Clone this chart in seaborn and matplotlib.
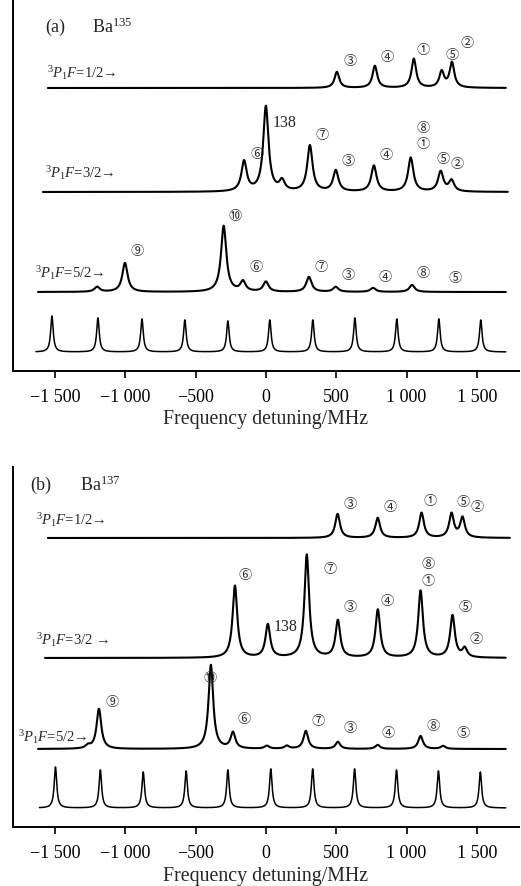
import numpy as np
import pandas as pd
import seaborn as sns
import matplotlib.pyplot as plt

# ---- data: peak centres (MHz) and heights (arb. units) ----
# panel (a) Ba135
a_f12_pos = [505, 775, 1052, 1250, 1323]
a_f12_amp = [16, 22, 29, 16, 25]
a_f32_pos = [-155, 0, 115, 313, 497, 768, 1030, 1243, 1320]
a_f32_amp = [30, 85, 10, 46, 21, 26, 34, 20, 11]
a_f52_pos = [-1200, -1002, -300, -163, 0, 306, 497, 762, 1039]
a_f52_amp = [5, 29, 66, 10, 10, 15, 5, 4, 7]
a_comb_pos = [-1521, -1194, -881, -576, -270, 28, 334, 633, 931, 1230, 1528]
a_comb_amp = [36, 34, 33, 32, 31, 32, 32, 34, 33, 33, 32]

# panel (b) Ba137
b_f12_pos = [510, 795, 1107, 1320, 1398]
b_f12_amp = [24, 20, 25, 24, 20]
b_f32_pos = [-220, 14, 291, 512, 796, 1100, 1327, 1414]
b_f32_amp = [72, 33, 103, 37, 48, 67, 42, 9]
b_f52_pos = [-1265, -1187, -391, -234, 7, 149, 284, 512, 795, 1100, 1260]
b_f52_amp = [3, 40, 84, 16, 3, 3, 18, 7, 4, 13, 3]
b_comb_pos = [-1496, -1177, -872, -567, -270, 35, 333, 631, 929, 1227, 1525]
b_comb_amp = [41, 38, 36, 37, 38, 39, 39, 39, 38, 37, 36]

tick_vals = [-1500, -1000, -500, 0, 500, 1000, 1500]
tick_text = ['\u22121 500', '\u22121 000', '\u2212500', '0',
             '500', '1 000', '1 500']

sns.set_theme(style='ticks')
plt.rcParams['font.family'] = ['Liberation Serif', 'DejaVu Serif']
plt.rcParams['mathtext.fontset'] = 'custom'
plt.rcParams['mathtext.rm'] = 'Liberation Serif'
plt.rcParams['mathtext.it'] = 'Liberation Serif:italic'
plt.rcParams['mathtext.bf'] = 'Liberation Serif:bold'

CIRC = ['Noto Sans CJK SC', 'DejaVu Sans']
NUM = dict(zip('1 2 3 4 5 6 7 8 9 10'.split(), '①②③④⑤⑥⑦⑧⑨⑩'))


def spectrum(x, pos, amp, fwhm):
    hw = fwhm / 2.0
    y = np.zeros_like(x)
    for p, a in zip(pos, amp):
        y = y + a * hw ** 2 / ((x - p) ** 2 + hw ** 2)
    return y


def draw_trace(ax, pos, amp, fwhm, base, x0, x1, lw):
    x = np.linspace(x0, x1, 2500)
    df = pd.DataFrame({'f': x, 'sig': base + spectrum(x, pos, amp, fwhm)})
    sns.lineplot(data=df, x='f', y='sig', ax=ax, color='black', lw=lw,
                 estimator=None, sort=False)


def style_axes(ax, ylim, lpad):
    ax.set_xlim(-1800, 1800)
    ax.set_ylim(*ylim)
    ax.set_yticks([])
    ax.set_ylabel('')
    ax.set_xticks(tick_vals)
    ax.set_xticklabels(tick_text, fontsize=13)
    ax.set_xlabel('Frequency detuning/MHz', fontsize=14.3, labelpad=lpad)
    ax.tick_params(axis='x', direction='out', length=5, width=1.2, pad=7,
                   colors='black')
    for s in ['top', 'right']:
        ax.spines[s].set_visible(False)
    for s in ['left', 'bottom']:
        ax.spines[s].set_linewidth(1.4)
        ax.spines[s].set_color('black')


def circ(ax, x, y, n):
    ax.text(x, y, NUM[n], family=CIRC, fontsize=9.5, ha='center', va='center')


fig = plt.figure(figsize=(5.21, 8.87), dpi=100)
ax_a = fig.add_axes([0.0244, 0.5806, 0.9718, 0.4194])
ax_b = fig.add_axes([0.0244, 0.0665, 0.9718, 0.4059])

# ---- panel (a) ----
draw_trace(ax_a, a_f12_pos, a_f12_amp, 40, 283, -1550, 1706, 1.5)
draw_trace(ax_a, a_f32_pos, a_f32_amp, 45, 179, -1585, 1720, 1.5)
draw_trace(ax_a, a_f52_pos, a_f52_amp, 45, 79, -1620, 1706, 1.5)
draw_trace(ax_a, a_comb_pos, a_comb_amp, 22, 19, -1635, 1706, 1.1)
style_axes(ax_a, (0, 372), 3)

ax_a.text(-1571, 345, '(a)', fontsize=13, va='center')
ax_a.text(-1237, 345, 'Ba$^{135}$', fontsize=13, va='center')
lab = dict(fontsize=10.5, va='center', ha='left', family=['Liberation Serif', 'DejaVu Serif'])
ax_a.text(-1556, 299, '$^{3}P_{1}F$=1/2\u2192', **lab)
ax_a.text(-1571, 199, '$^{3}P_{1}F$=3/2\u2192', **lab)
ax_a.text(-1642, 99, '$^{3}P_{1}F$=5/2\u2192', **lab)
ax_a.text(50, 249, '138', fontsize=11.5, va='center', ha='left')
for x, y, n in [(597, 311, '3'), (860, 315, '4'), (1116, 322, '1'),
                (1322, 317, '5'), (1429, 329, '2'),
                (-64, 218, '6'), (398, 237, '7'), (583, 211, '3'),
                (853, 217, '4'), (1116, 244, '8'), (1116, 228, '1'),
                (1258, 213, '5'), (1357, 208, '2'),
                (-220, 156, '10'), (-917, 121, '9'), (-71, 105, '6'),
                (391, 105, '7'), (583, 97, '3'), (846, 95, '4'),
                (1116, 99, '8'), (1343, 94, '5')]:
    circ(ax_a, x, y, n)

# ---- panel (b) ----
draw_trace(ax_b, b_f12_pos, b_f12_amp, 40, 289, -1550, 1735, 1.5)
draw_trace(ax_b, b_f32_pos, b_f32_amp, 40, 169, -1570, 1706, 1.5)
draw_trace(ax_b, b_f52_pos, b_f52_amp, 40, 78, -1620, 1706, 1.5)
draw_trace(ax_b, b_comb_pos, b_comb_amp, 22, 19, -1610, 1706, 1.1)
style_axes(ax_b, (0, 360), 4)

ax_b.text(-1677, 343, '(b)', fontsize=13, va='center')
ax_b.text(-1322, 343, 'Ba$^{137}$', fontsize=13, va='center')
ax_b.text(-1635, 308, '$^{3}P_{1}F$=1/2\u2192', **lab)
ax_b.text(-1635, 188, '$^{3}P_{1}F$=3/2 \u2192', **lab)
ax_b.text(-1763, 91, '$^{3}P_{1}F$=5/2\u2192', **lab)
ax_b.text(57, 201, '138', fontsize=11.5, va='center', ha='left')
for x, y, n in [(597, 323, '3'), (881, 320, '4'), (1166, 326, '1'),
                (1400, 325, '5'), (1500, 320, '2'),
                (-149, 252, '6'), (455, 258, '7'), (597, 220, '3'),
                (860, 226, '4'), (1151, 263, '8'), (1151, 246, '1'),
                (1414, 220, '5'), (1493, 188, '2'),
                (-398, 150, '10'), (-1095, 126, '9'), (-156, 109, '6'),
                (370, 107, '7'), (597, 100, '3'), (867, 95, '4'),
                (1187, 102, '8'), (1400, 95, '5')]:
    circ(ax_b, x, y, n)

fig.savefig('out.png', dpi=100)
